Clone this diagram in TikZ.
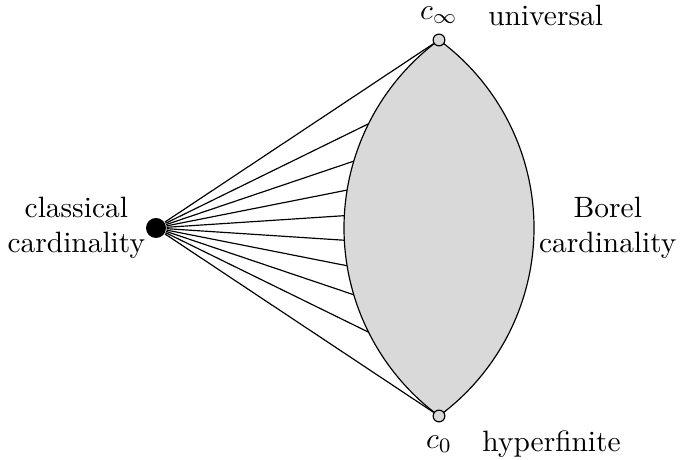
\documentclass[tikz,border=0pt]{standalone}
\usepackage{tikz}
\usetikzlibrary{positioning, calc, intersections}
\definecolor{lensgray}{RGB}{217,217,217}

\begin{document}
\begin{tikzpicture}[x=0.34pt, y=0.34pt,
  endpt/.style={circle, draw, fill=lensgray, inner sep=0pt, minimum size=4pt},
  classpt/.style={circle, fill=black, inner sep=0pt, minimum size=6.8pt}]
  \useasboundingbox (0,0) rectangle (681,460);
  \coordinate (ctop) at (439,420);
  \coordinate (cbot) at (439,44);
  \coordinate (rt) at (534,232);
  \def\R{233.5}
  \def\h{53.62}
  \draw[fill=lensgray] (ctop) arc[start angle=180-\h, end angle=180+\h, radius=\R]
    arc[start angle=-\h, end angle=\h, radius=\R] -- cycle;
  \path[name path=leftarc] (ctop) arc[start angle=180-\h, end angle=180+\h, radius=\R];
  \node[classpt] (dot) at (156,232) {};
  \node[endpt] (top) at (ctop) {};
  \node[endpt] (bot) at (cbot) {};
  \draw (dot) -- (top);
  \draw (dot) -- (bot);
  \foreach \k in {-7,-5,...,7} {
    \path[name path=ray] (dot.center) -- ++(\k*3.733:300);
    \draw[name intersections={of=ray and leftarc, by=p}] (dot) -- (p);
  }
  \node[above=-0.2pt of top] (cinf) {$c_\infty$};
  \node[right=3.3pt of cinf] (univ) {universal};
  \node[below=1pt of bot] (czero) {$c_0$};
  \node[right=3.3pt of czero] (hyp) {hyperfinite};
  \node[left=-3.4pt of dot, align=center] (clas) {classical\\cardinality};
  \node[right=-1.8pt of rt, align=center] (bor) {Borel\\cardinality};
\end{tikzpicture}
\end{document}
